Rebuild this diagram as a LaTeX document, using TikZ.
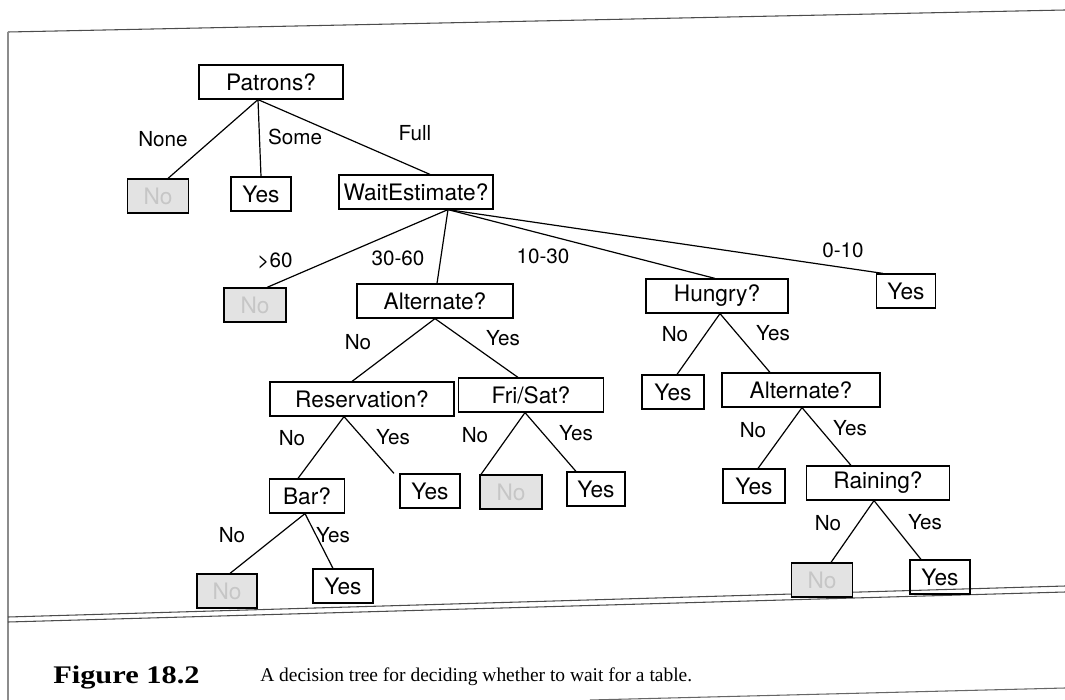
\documentclass[tikz,border=0pt]{standalone}
\usepackage{fontspec}
\setmainfont{Liberation Serif}
\setsansfont{TeX Gyre Heros}
\usetikzlibrary{calc}
\begin{document}
\begin{tikzpicture}[x=0.75pt,y=-0.75pt,
  box/.style={draw, line width=0.9pt, minimum height=25.5pt, inner sep=0pt,
    font=\sffamily\fontsize{17}{19}\selectfont, minimum width=#1*0.75pt},
  nobox/.style={draw, line width=1.4pt, fill=gray!22, text=gray!45,
    minimum width=#1*0.75pt, minimum height=25pt, inner sep=0pt,
    font=\sffamily\fontsize{17}{19}\selectfont},
  lab/.style={font=\sffamily\fontsize{15.5}{17}\selectfont, inner sep=0pt},
  edge/.style={line width=0.9pt},
  frame/.style={line width=0.8pt, black!70}]
\useasboundingbox (0,0) rectangle (1065,700);

% page rules around the figure
\draw[frame] (8,32) -- (1065,10);
\draw[frame, black!45] (8,32) -- (8,700);
\draw[frame] (8,617) -- (1065,586);
\draw[frame] (8,622) -- (1065,592);
\draw[frame, black!60] (590,700) -- (1065,688);

% tree nodes
\node[box=144] (patrons) at (271,82) {Patrons?};
\node[nobox=61] (n1) at (158,196) {No};
\node[box=60] (y1) at (261,194) {Yes};
\node[box=154] (wait) at (416,192) {WaitEstimate?};
\node[nobox=62] (n2) at (255,305) {No};
\node[box=156] (alt1) at (435,301) {Alternate?};
\node[box=142] (hungry) at (717,296) {Hungry?};
\node[box=59] (y2) at (906,291) {Yes};
\node[box=184] (res) at (362,399) {Reservation?};
\node[box=145] (fri) at (531,395) {Fri/Sat?};
\node[box=62] (y3) at (673,392) {Yes};
\node[box=158] (alt2) at (801,390) {Alternate?};
\node[box=75] (bar) at (307,496) {Bar?};
\node[box=60] (y4) at (430,491) {Yes};
\node[nobox=62] (n3) at (511,492) {No};
\node[box=58] (y5) at (596,489) {Yes};
\node[box=62] (y6) at (754,486) {Yes};
\node[box=143] (rain) at (878,483) {Raining?};
\node[nobox=60] (n4) at (227,591) {No};
\node[box=60] (y7) at (343,586) {Yes};
\node[nobox=61] (n5) at (822,580) {No};
\node[box=60] (y8) at (940,577) {Yes};

% branches
\draw[edge] ($(patrons.south)+(-13,0)$) -- ($(n1.north)+(10,0)$);
\draw[edge] ($(patrons.south)+(-13,0)$) -- (y1.north);
\draw[edge] ($(patrons.south)+(-13,0)$) -- ($(wait.north)+(14,0)$);

\draw[edge] ($(wait.south)+(32,0)$) -- ($(n2.north)+(12,0)$);
\draw[edge] ($(wait.south)+(32,0)$) -- ($(alt1.north)+(2,0)$);
\draw[edge] ($(wait.south)+(32,0)$) -- ($(hungry.north)+(-2,0)$);
\draw[edge] ($(wait.south)+(32,0)$) -- ($(y2.north)+(-23,0)$);

\draw[edge] (alt1.south) -- ($(res.north)+(-10,0)$);
\draw[edge] (alt1.south) -- ($(fri.north)+(-13,0)$);

\draw[edge] ($(res.south)+(-18,0)$) -- ($(bar.north)+(-9,0)$);
\draw[edge] ($(res.south)+(-18,0)$) -- ($(y4.north)+(-36,0)$);

\draw[edge] ($(fri.south)+(-6,0)$) -- ($(n3.north)+(-30,0)$);
\draw[edge] ($(fri.south)+(-6,0)$) -- ($(y5.north)+(-20,0)$);

\draw[edge] ($(hungry.south)+(3,0)$) -- ($(y3.north)+(4,0)$);
\draw[edge] ($(hungry.south)+(3,0)$) -- ($(alt2.north)+(-31,0)$);

\draw[edge] ($(alt2.south)+(1,0)$) -- ($(y6.north)+(4,0)$);
\draw[edge] ($(alt2.south)+(1,0)$) -- ($(rain.north)+(-27,0)$);

\draw[edge] ($(bar.south)+(-2,0)$) -- ($(n4.north)+(3,0)$);
\draw[edge] ($(bar.south)+(-2,0)$) -- ($(y7.north)+(-10,0)$);

\draw[edge] ($(rain.south)+(-4,0)$) -- ($(n5.north)+(9,0)$);
\draw[edge] ($(rain.south)+(-4,0)$) -- ($(y8.north)+(-19,0)$);

% branch labels
\node[lab] (lNone) at (163,139) {None};
\node[lab] (lSome) at (295,137) {Some};
\node[lab] (lFull) at (415,133) {Full};
\node[lab] (l60) at (275,261) {>60};
\node[lab] (l3060) at (398,258) {30-60};
\node[lab] (l1030) at (543,256) {10-30};
\node[lab] (l010) at (843,250) {0-10};
\node[lab] (la1n) at (358,342) {No};
\node[lab] (la1y) at (503,338) {Yes};
\node[lab] (lhn) at (675,334) {No};
\node[lab] (lhy) at (773,333) {Yes};
\node[lab] (lrn) at (292,438) {No};
\node[lab] (lry) at (393,437) {Yes};
\node[lab] (lfn) at (475,435) {No};
\node[lab] (lfy) at (576,433) {Yes};
\node[lab] (la2n) at (753,430) {No};
\node[lab] (la2y) at (850,428) {Yes};
\node[lab] (lbn) at (232,535) {No};
\node[lab] (lby) at (333,535) {Yes};
\node[lab] (lrain-n) at (828,523) {No};
\node[lab] (lrain-y) at (925,522) {Yes};

% caption
\node[anchor=west, inner sep=0pt, font=\rmfamily\bfseries\fontsize{19}{21}\selectfont]
  (capnum) at (53,677) {\scalebox{1.2}[1]{Figure 18.2}};
\node[anchor=west, inner sep=0pt, font=\rmfamily\fontsize{14.6}{17}\selectfont]
  (captext) at (260,677) {A decision tree for deciding whether to wait for a table.};
\end{tikzpicture}
\end{document}
